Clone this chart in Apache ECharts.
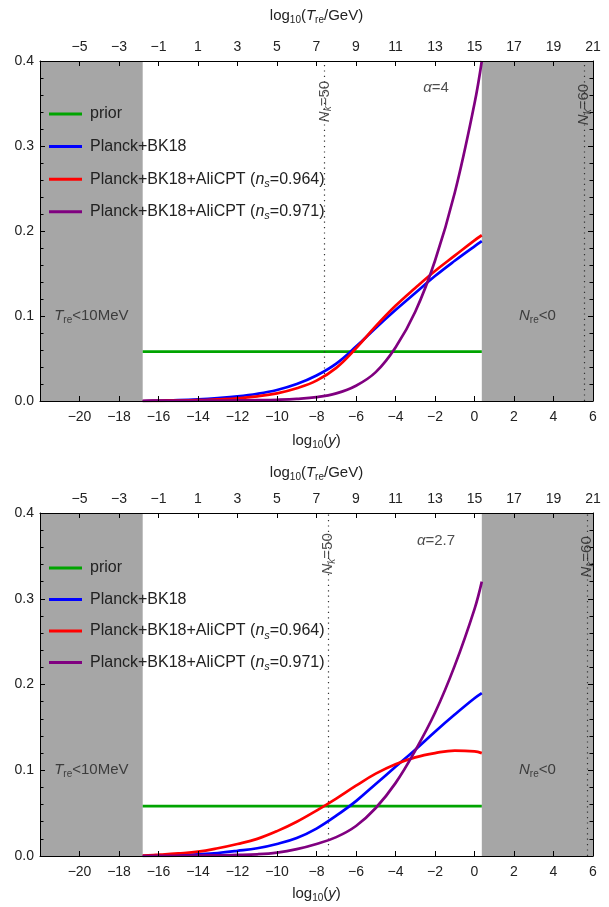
<!DOCTYPE html>
<html><head><meta charset="utf-8">
<script src="https://cdn.jsdelivr.net/npm/echarts@6/dist/echarts.min.js"></script>
<style>html,body{margin:0;padding:0;background:#fff}#c{width:609px;height:907px}</style>
</head><body><div id="c"></div>
<script>
// ---------- data ----------
const X_MIN = -22, X_MAX = 6;        // log10(y) range
const T_OFFSET = 15;                 // log10(Tre/GeV) = log10(y) + 15
const curveStart = -16.8, curveEnd = 0.37;
const priorValue = 0.0582;
const seriesNames = ['prior', 'Planck+BK18', 'Planck+BK18+AliCPT (ns=0.964)', 'Planck+BK18+AliCPT (ns=0.971)'];

// panel 1 (alpha = 4)
const p1Blue = [[-16.8,0],[-16,0.0005],[-15,0.001],[-14,0.002],[-13,0.0035],[-12,0.0055],[-11,0.0085],[-10,0.013],[-9,0.02],[-8,0.03],[-7,0.044],[-6,0.064],[-5,0.086],[-4,0.107],[-3,0.127],[-2,0.147],[-1,0.165],[0,0.182],[0.37,0.188]];
const p1Red = [[-16.8,0],[-16,0.0002],[-15,0.0005],[-14,0.001],[-13,0.002],[-12,0.0032],[-11,0.0055],[-10,0.009],[-9,0.015],[-8,0.024],[-7,0.039],[-6,0.062],[-5,0.088],[-4,0.112],[-3,0.133],[-2,0.153],[-1,0.171],[0,0.189],[0.37,0.195]];
const p1Purple = [[-16.8,0],[-16,0.0001],[-15,0.0002],[-14,0.0003],[-13,0.0005],[-12,0.0007],[-11,0.001],[-10,0.0015],[-9,0.0025],[-8,0.0045],[-7,0.009],[-6,0.018],[-5,0.034],[-4,0.063],[-3,0.105],[-2,0.165],[-1,0.245],[0,0.35],[0.37,0.4]];
const p1Nk = [-7.6, 5.55];
const p1Alpha = '4';

// panel 2 (alpha = 2.7)
const p2Blue = [[-16.8,0],[-16,0.0004],[-15,0.001],[-14,0.002],[-13,0.0035],[-12,0.006],[-11,0.009],[-10,0.014],[-9,0.021],[-8,0.032],[-7,0.047],[-6,0.064],[-5,0.084],[-4,0.104],[-3,0.124],[-2,0.145],[-1,0.165],[0,0.184],[0.37,0.19]];
const p2Red = [[-16.8,0.0005],[-16,0.0015],[-15,0.003],[-14,0.005],[-13,0.009],[-12,0.014],[-11,0.02],[-10,0.029],[-9,0.04],[-8,0.053],[-7,0.067],[-6,0.082],[-5,0.096],[-4,0.107],[-3,0.115],[-2,0.12],[-1,0.123],[0,0.122],[0.37,0.12]];
const p2Purple = [[-16.8,0],[-16,0.0002],[-15,0.0003],[-14,0.0005],[-13,0.0008],[-12,0.0012],[-11,0.002],[-10,0.004],[-9,0.008],[-8,0.014],[-7,0.022],[-6,0.035],[-5,0.056],[-4,0.085],[-3,0.123],[-2,0.167],[-1,0.222],[0,0.288],[0.37,0.32]];
const p2Nk = [-7.43, 5.69];
const p2Alpha = '2.7';

const yTicks = [0, 0.1, 0.2, 0.3, 0.4];

// ---------- style ----------
const FONT = "'Liberation Sans', Arial, Helvetica, sans-serif";
const colors = ['#00a400', '#0000ff', '#ff0000', '#800080'];
const grids = [
  {left: 40, top: 61, width: 553, height: 340},
  {left: 40, top: 513, width: 553, height: 343}
];
const legendTops = [104, 558];
const legendGaps = [12.6, 11.5];
const topNameGaps = [36, 31];
const bottomNameGaps = [31, 29];

function fmtNum(v) { return v < 0 ? '\u2212' + Math.abs(v) : String(v); }
const subRich = (fs) => ({
  it: {fontStyle: 'italic', fontSize: fs, fontFamily: FONT, color: '#222'},
  sub: {fontSize: Math.round(fs * 0.68), fontFamily: FONT, color: '#222', verticalAlign: 'bottom', lineHeight: 11},
  subit: {fontStyle: 'italic', fontSize: Math.round(fs * 0.68), fontFamily: FONT, color: '#222', verticalAlign: 'bottom', lineHeight: 11}
});

const xAxes = [], yAxes = [], series = [], legends = [];
const panels = [
  {blue: p1Blue, red: p1Red, purple: p1Purple, nk: p1Nk, alpha: p1Alpha},
  {blue: p2Blue, red: p2Red, purple: p2Purple, nk: p2Nk, alpha: p2Alpha}
];

const axisLine = {show: true, onZero: false, lineStyle: {color: '#000', width: 1}};
const nameStyle = {fontSize: 15, fontFamily: FONT, color: '#222', lineHeight: 18, rich: subRich(15)};

panels.forEach((p, gi) => {
  xAxes.push({
    type: 'value', gridIndex: gi, position: 'bottom', min: X_MIN, max: X_MAX, interval: 2, z: 10,
    axisLine, axisTick: {show: true, inside: true, length: 5, lineStyle: {color: '#000'}},
    axisLabel: {formatter: v => v === X_MIN ? '' : fmtNum(v), color: '#222', fontSize: 14, fontFamily: FONT, margin: 9},
    splitLine: {show: false},
    name: 'log{sub|10}({it|y})', nameLocation: 'middle', nameGap: bottomNameGaps[gi], nameTextStyle: nameStyle
  });
  xAxes.push({
    type: 'value', gridIndex: gi, position: 'top', min: X_MIN, max: X_MAX, interval: 2, z: 10,
    axisLine, axisTick: {show: true, inside: true, length: 5, lineStyle: {color: '#000'}},
    axisLabel: {formatter: v => v === X_MIN ? '' : fmtNum(v + T_OFFSET), color: '#222', fontSize: 14, fontFamily: FONT, margin: 7},
    splitLine: {show: false},
    name: 'log{sub|10}({it|T}{sub|re}/GeV)', nameLocation: 'middle', nameGap: topNameGaps[gi], nameTextStyle: nameStyle
  });
  const yBase = {
    type: 'value', gridIndex: gi, min: yTicks[0], max: yTicks[yTicks.length - 1], interval: 0.1, z: 10,
    axisLine, axisTick: {show: true, inside: true, length: 5, lineStyle: {color: '#000'}},
    minorTick: {show: true, splitNumber: 5, length: 3.5, lineStyle: {color: '#000'}},
    splitLine: {show: false}, minorSplitLine: {show: false}
  };
  yAxes.push(Object.assign({}, yBase, {position: 'left',
    axisLabel: {formatter: v => v.toFixed(1), color: '#222', fontSize: 14, fontFamily: FONT, margin: 6}}));
  yAxes.push(Object.assign({}, yBase, {position: 'right', axisLabel: {show: false}}));

  const xi = gi * 2, yi = gi * 2;
  const lineBase = {type: 'line', xAxisIndex: xi, yAxisIndex: yi, symbol: 'none', showSymbol: false, smooth: 0.4, silent: true, animation: false};
  series.push(Object.assign({}, lineBase, {
    name: seriesNames[0], data: [[curveStart, priorValue], [curveEnd, priorValue]], smooth: false,
    lineStyle: {color: colors[0], width: 2.8}, itemStyle: {color: colors[0]}, z: 2,
    markArea: {silent: true, itemStyle: {color: '#a6a6a6', opacity: 1},
      data: [[{xAxis: X_MIN}, {xAxis: curveStart}], [{xAxis: curveEnd}, {xAxis: X_MAX}]]},
    markLine: {silent: true, symbol: 'none', animation: false, label: {show: false},
      lineStyle: {type: [1.2, 4.2], color: '#333', width: 1.2},
      data: p.nk.map(v => ({xAxis: v}))}
  }));
  [[p.blue, 1], [p.red, 2], [p.purple, 3]].forEach(([d, ci]) => {
    series.push(Object.assign({}, lineBase, {
      name: seriesNames[ci], data: d, lineStyle: {color: colors[ci], width: 2.7}, itemStyle: {color: colors[ci]}, z: 3 + ci
    }));
  });
  const lbl = (extra) => Object.assign({show: true, position: 'inside', color: '#222', fontSize: 15, fontFamily: FONT, lineHeight: 18, rich: subRich(15)}, extra);
  series.push({
    type: 'scatter', name: 'annotations', xAxisIndex: xi, yAxisIndex: yi, symbolSize: 1, silent: true, animation: false,
    itemStyle: {color: 'rgba(0,0,0,0)'}, z: 20,
    data: [
      {value: [(X_MIN + curveStart) / 2, 0.1], label: lbl({formatter: '{it|T}{sub|re}<10MeV'})},
      {value: [(curveEnd + X_MAX) / 2, 0.1], label: lbl({formatter: '{it|N}{sub|re}<0'})},
      {value: [p.nk[0], 0.35], label: lbl({formatter: '{it|N}{subit|k}=50', rotate: 90, offset: [2, 0]})},
      {value: [p.nk[1], 0.35], label: lbl({formatter: '{it|N}{subit|k}=60', rotate: 90, offset: [-1, 0]})},
      {value: [-1.95, 0.368], label: lbl({formatter: '{it|\u03b1}=' + p.alpha})}
    ]
  });
  legends.push({
    orient: 'vertical', left: 49, top: legendTops[gi], padding: 0, itemGap: legendGaps[gi],
    itemWidth: 33, itemHeight: 3, icon: 'rect', selectedMode: false,
    itemStyle: {borderWidth: 0},
    data: seriesNames,
    formatter: n => n.replace('ns=', '{it|n}{subit|s}='),
    textStyle: {fontSize: 16, fontFamily: FONT, color: '#222', lineHeight: 20, padding: [0, 0, 0, 3],
      rich: Object.assign(subRich(16), {subit: {fontStyle: 'italic', fontSize: 11, fontFamily: FONT, color: '#222', verticalAlign: 'bottom', lineHeight: 12}})}
  });
});

const chart = echarts.init(document.getElementById('c'), null, {renderer: 'canvas'});
chart.setOption({
  animation: false,
  backgroundColor: '#fff',
  grid: grids.map(g => Object.assign({outerBoundsMode: 'none', containLabel: false}, g)),
  xAxis: xAxes,
  yAxis: yAxes,
  legend: legends,
  series
});
</script></body></html>
